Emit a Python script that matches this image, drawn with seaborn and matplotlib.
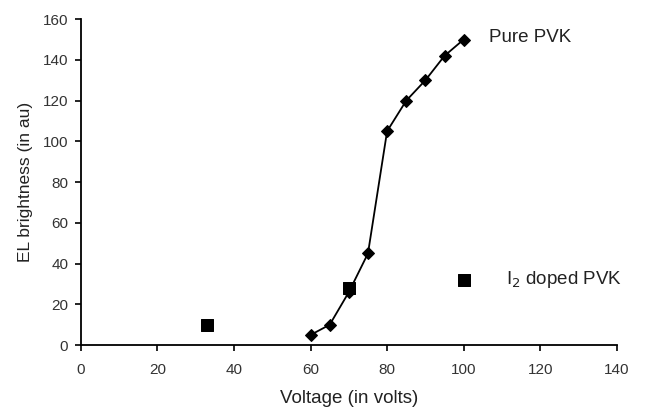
import matplotlib
matplotlib.use("Agg")
import matplotlib.pyplot as plt
import seaborn as sns
import pandas as pd

pure_v = [60, 65, 70, 75, 80, 85, 90, 95, 100]
pure_b = [5, 10, 26, 45, 105, 120, 130, 142, 150]
doped_v = [33, 70, 100]
doped_b = [10, 28, 32]
x_ticks = [0, 20, 40, 60, 80, 100, 120, 140]
y_ticks = [0, 20, 40, 60, 80, 100, 120, 140, 160]

sns.set_style("ticks")
plt.rcParams['font.family'] = ['Liberation Sans', 'DejaVu Sans']

fig = plt.figure(figsize=(6.52, 4.07), dpi=100)
ax = fig.add_axes([0.124, 0.152, 0.822, 0.801])

pure = pd.DataFrame({"v": pure_v, "b": pure_b})
doped = pd.DataFrame({"v": doped_v, "b": doped_b})
sns.lineplot(data=pure, x="v", y="b", ax=ax, color="black", lw=1.3,
             marker="D", markersize=6, markeredgecolor="black")
sns.scatterplot(data=doped, x="v", y="b", ax=ax, color="black", marker="s",
                s=80, edgecolor="black", zorder=5)

ax.set_xlim(0, 140)
ax.set_ylim(0, 160)
ax.set_xticks(x_ticks)
ax.set_yticks(y_ticks)
ax.tick_params(labelsize=11, colors="black", length=4, width=1.2)
ax.tick_params(axis="both", labelcolor="#333333")
ax.tick_params(axis="x", pad=9)
ax.tick_params(axis="y", pad=5)
for s in ["left", "bottom"]:
    ax.spines[s].set_color("black")
    ax.spines[s].set_linewidth(1.3)
sns.despine(ax=ax)
ax.set_xlabel("Voltage (in volts)", fontsize=13.5, color="#222222", labelpad=9)
ax.set_ylabel("EL brightness (in au)", fontsize=12.5, color="#222222", labelpad=7)

ax.text(106.5, 151, "Pure PVK", fontsize=13.5, color="#222222", va="center")
ax.text(111, 32, "I$_2$ doped PVK", fontsize=13.5, color="#222222", va="center")

fig.savefig("out.png", dpi=100)
